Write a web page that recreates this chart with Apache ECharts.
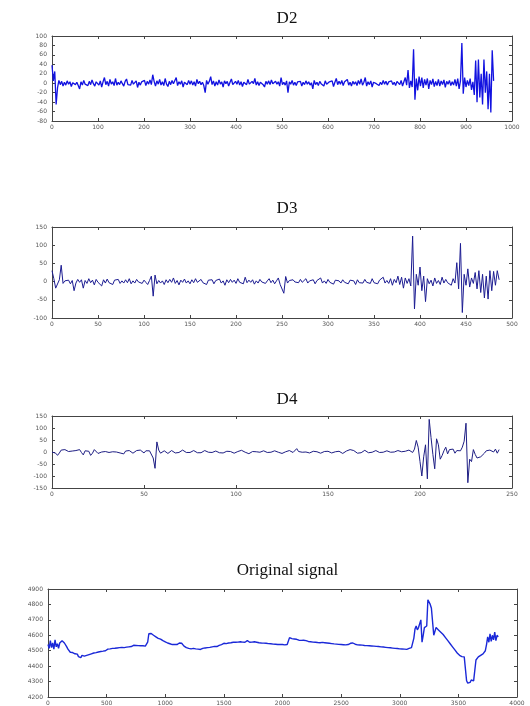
<!DOCTYPE html>
<html>
<head>
<meta charset="utf-8">
<script src="https://cdn.jsdelivr.net/npm/echarts@6/dist/echarts.min.js"></script>
<style>html,body{margin:0;padding:0;background:#fff;}#c{width:530px;height:706px;}</style>
</head>
<body>
<div id="c"></div>
<script>
// ---- Data ----
const titles = ['D2', 'D3', 'D4', 'Original signal'];

// D2: sample spacing 3
const D2_STEP = 3;
const d2 = [
38,5,25,-45,-10,6,-3,4,-6,2,-4,5,-2,3,-7,1,4,-3,2,-5,
-12,3,-4,6,-2,1,-5,4,-3,7,-1,-6,3,2,-4,5,-8,3,12,-3,
4,-6,8,-2,3,-5,10,-4,2,-3,5,-1,-6,4,9,-3,1,-4,6,-2,
-3,5,-9,2,-4,3,-1,6,-5,4,-2,7,-3,18,4,-6,5,-2,8,-4,
3,-5,10,-2,-7,4,-3,6,-1,-4,12,-5,3,-2,5,-8,2,4,-3,6,
-2,5,-4,3,-6,8,-1,4,-3,2,-5,-20,6,-2,4,14,-3,5,-6,3,
-4,7,-2,3,-8,5,-1,4,-6,2,9,-3,-5,4,-2,6,-4,3,-7,2,
5,-3,8,-2,-6,4,-1,10,-4,3,-5,2,6,-3,-8,4,-2,5,-3,7,
-1,-5,4,-2,3,-6,12,-3,2,-4,5,-20,3,-2,6,-4,2,-5,3,-1,
4,-6,2,-3,5,-2,3,-4,1,-12,6,-3,2,-5,4,-1,3,-6,5,-2,
-4,3,-1,5,-7,2,10,-3,4,-2,6,-5,3,-1,8,-4,2,-6,4,-2,
3,-5,6,-2,9,-4,2,12,-6,3,-3,5,-8,2,4,-1,3,-5,2,-3,
6,-2,4,-4,3,-1,5,-3,2,-5,4,8,-3,6,-6,3,12,-4,28,-10,
5,-8,72,-35,10,-15,14,-6,12,-10,8,-4,10,-12,6,-3,9,-7,4,-5,
8,-6,5,-3,7,-9,4,-2,6,-5,3,-4,8,-6,10,-12,5,85,-22,12,
-8,6,-5,10,-14,3,-25,48,-40,50,-30,20,-45,50,-20,25,-55,20,-62,70,
5
];

// D3: sample spacing 2
const D3_STEP = 2;
const d3 = [
30,8,-18,-15,5,45,-5,2,-3,4,-6,3,-25,-4,6,-2,5,-18,3,-5,
8,-3,4,-9,6,-2,3,-12,5,-4,7,-3,2,-8,4,-1,6,-5,2,-4,
5,-3,8,-6,2,-4,6,-1,3,-5,4,-2,-8,3,15,-40,18,-6,3,-4,
2,-8,5,-3,6,-2,10,-5,3,-9,4,-2,7,-4,2,-6,5,-3,8,-2,
-4,6,-3,2,-8,4,-1,5,-6,3,-2,7,-4,2,-10,5,-3,6,-2,4,
-5,8,-2,3,-6,12,-3,4,-2,5,-7,2,-4,6,-1,3,-5,2,8,-3,
4,-6,2,10,-8,-5,-32,14,-4,3,-2,5,-1,2,-3,6,-2,1,8,-4,
2,-3,5,-6,3,-1,10,-4,2,-5,6,-2,3,-7,4,-1,2,-4,5,-2,
3,-6,4,-1,2,-8,5,-3,2,-4,6,-2,3,-5,8,-3,2,-6,4,-1,
12,-4,3,-5,8,-10,6,-3,15,-8,12,-18,10,-5,8,-12,125,-75,20,-10,
40,-25,15,-55,8,-6,4,-12,10,-5,3,-8,12,-4,6,-3,2,-10,8,-4,
52,-20,105,-85,20,-10,35,-15,10,-5,25,-20,30,-30,20,-45,15,-48,30,-25,
28,-10,30,5
];

// D4: sample spacing 1
const D4_STEP = 1;
const d4 = [
0,3,-5,-14,-4,8,5,10,6,2,8,4,-2,6,3,10,-2,-12,5,8,
3,-14,-5,10,5,-6,-3,0,1,2,0,-2,3,1,-3,0,2,-4,1,-8,
4,-2,6,2,-5,2,6,4,8,0,-4,5,2,5,-2,-25,-68,42,8,-5,
2,5,-3,-6,0,6,3,-4,-8,-2,5,8,4,-2,-5,-2,3,6,2,-3,
-6,-3,2,6,4,-1,-4,-2,1,4,2,-3,-6,-4,0,3,5,2,-2,-5,
-3,2,5,7,4,-1,-5,-7,-3,2,4,1,-3,-1,3,5,2,-2,-4,-1,
3,5,2,-1,-4,-6,-3,1,4,6,3,-2,2,14,2,-3,-1,2,0,-2,
-4,-1,3,4,1,-2,-5,-3,2,5,3,-1,-4,-2,1,8,3,-2,-6,-1,
4,6,10,14,6,2,-5,-9,-3,4,7,2,-3,-5,-1,4,6,2,-2,-4,
-1,3,5,2,-1,-3,0,4,6,3,1,5,3,2,8,4,-2,12,48,20,
-40,-100,-20,30,-112,136,60,-10,-70,55,30,-30,-15,5,20,-8,10,2,12,-5,
6,8,5,20,45,120,-128,-30,-40,10,-10,-25,-30,-20,-15,-5,5,-3,8,15,
0,12,-5,10
];

// Original signal: sample spacing 10
const ORIG_STEP = 10;
const orig = [
4540,4515,4565,4520,4550,4510,4570,4525,4545,4515,
4550,4560,4565,4560,4550,4540,4525,4510,4500,4490,
4490,4488,4485,4480,4475,4478,4462,4468,4455,4470,
4460,4465,4458,4470,4462,4475,4470,4480,4478,4485,
4490,4488,4495,4492,4498,4495,4500,4497,4503,4500,
4505,4510,4506,4512,4508,4515,4510,4516,4512,4518,
4515,4520,4518,4522,4525,4520,4526,4523,4528,4525,
4530,4527,4532,4535,4530,4534,4538,4533,4536,4532,
4528,4532,4535,4530,4540,4555,4610,4615,4612,4605,
4600,4595,4590,4585,4580,4582,4575,4570,4565,4560,
4558,4555,4550,4548,4545,4542,4540,4545,4540,4538,
4540,4545,4550,4555,4548,4540,4530,4525,4520,4518,
4515,4520,4512,4510,4515,4508,4512,4505,4510,4515,
4508,4512,4515,4510,4518,4515,4520,4518,4522,4520,
4525,4522,4528,4530,4527,4532,4535,4538,4540,4545,
4548,4550,4546,4552,4550,4555,4552,4548,4555,4552,
4555,4550,4556,4553,4558,4552,4556,4560,4555,4558,
4565,4558,4555,4560,4556,4553,4558,4552,4555,4550,
4552,4548,4550,4546,4549,4545,4548,4543,4546,4542,
4545,4540,4543,4538,4542,4537,4540,4536,4540,4538,
4540,4542,4538,4545,4540,4548,4585,4582,4578,4575,
4576,4572,4574,4570,4568,4571,4567,4565,4568,4563,
4565,4562,4560,4563,4558,4561,4556,4559,4555,4558,
4553,4556,4552,4550,4554,4549,4552,4547,4550,4545,
4548,4543,4546,4541,4544,4540,4543,4538,4541,4537,
4540,4536,4539,4535,4538,4534,4540,4543,4548,4545,
4550,4545,4542,4540,4538,4535,4537,4533,4536,4532,
4534,4530,4533,4529,4532,4528,4531,4527,4530,4526,
4528,4524,4527,4523,4525,4521,4524,4520,4522,4518,
4520,4516,4519,4515,4517,4513,4515,4511,4514,4510,
4512,4508,4511,4507,4510,4506,4509,4512,4515,4518,
4520,4525,4580,4640,4660,4635,4650,4660,4700,4555,
4600,4650,4640,4660,4830,4820,4800,4775,4765,4600,
4610,4650,4640,4635,4630,4620,4615,4605,4595,4585,
4575,4565,4555,4545,4535,4525,4515,4505,4495,4485,
4478,4470,4465,4462,4458,4460,4455,4305,4290,4300,
4295,4310,4300,4305,4310,4440,4450,4460,4465,4470,
4475,4480,4490,4500,4540,4590,4555,4610,4560,4600,
4570,4620,4565,4600,4590
];

// axis ranges / tick intervals
const xRanges = [[0, 1000, 100], [0, 500, 50], [0, 250, 50], [0, 4000, 500]];
const yRanges = [[-80, 100, 20], [-100, 150, 50], [-150, 150, 50], [4200, 4900, 100]];

// ---- Layout ----
const grids = [
  {left: 52, top: 36, width: 460, height: 85},
  {left: 52, top: 227, width: 460, height: 91},
  {left: 52, top: 416, width: 460, height: 72},
  {left: 48, top: 589, width: 469, height: 109}
];
const titleTops = [5, 195, 386, 557];
const colors = ['#1212e0', '#1c1c92', '#1e1e84', '#1a28d8'];
const widths = [1.3, 1, 1, 1.4];
const seriesData = [[d2, D2_STEP], [d3, D3_STEP], [d4, D4_STEP], [orig, ORIG_STEP]];

const plain = v => String(v);
const axisLineStyle = {color: '#444', width: 1};
const xAxes = [], yAxes = [], series = [], title = [];
grids.forEach((g, i) => {
  const [xmin, xmax, xint] = xRanges[i];
  const [ymin, ymax, yint] = yRanges[i];
  const common = {
    type: 'value', gridIndex: i, splitLine: {show: false},
    axisLine: {show: true, onZero: false, lineStyle: axisLineStyle},
    axisTick: {show: true, inside: true, length: 3, lineStyle: {color: '#444'}}
  };
  xAxes.push(Object.assign({}, common, {
    min: xmin, max: xmax, interval: xint, position: 'bottom',
    axisLabel: {show: true, fontSize: 6, color: '#555', margin: 3, fontFamily: 'DejaVu Sans', formatter: plain}
  }));
  xAxes.push(Object.assign({}, common, {
    min: xmin, max: xmax, interval: xint, position: 'top', axisLabel: {show: false}
  }));
  yAxes.push(Object.assign({}, common, {
    min: ymin, max: ymax, interval: yint, position: 'left',
    axisLabel: {show: true, fontSize: 6, color: '#555', margin: 5, fontFamily: 'DejaVu Sans', formatter: plain}
  }));
  yAxes.push(Object.assign({}, common, {
    min: ymin, max: ymax, interval: yint, position: 'right', axisLabel: {show: false}
  }));
  const [vals, step] = seriesData[i];
  series.push({
    type: 'line', xAxisIndex: i * 2, yAxisIndex: i * 2,
    data: vals.map((v, k) => [k * step, v]),
    showSymbol: false, symbol: 'none', sampling: null,
    lineStyle: {color: colors[i], width: widths[i]},
    animation: false
  });
  title.push({
    text: titles[i], left: g.left + g.width / 2, top: titleTops[i], textAlign: 'center',
    textStyle: {fontFamily: 'Liberation Serif', fontWeight: 'normal', fontSize: 17, color: '#111'}
  });
});

const chart = echarts.init(document.getElementById('c'), null, {renderer: 'canvas'});
chart.setOption({
  animation: false,
  backgroundColor: '#fff',
  title: title,
  grid: grids,
  xAxis: xAxes,
  yAxis: yAxes,
  series: series
});
</script>
</body>
</html>
